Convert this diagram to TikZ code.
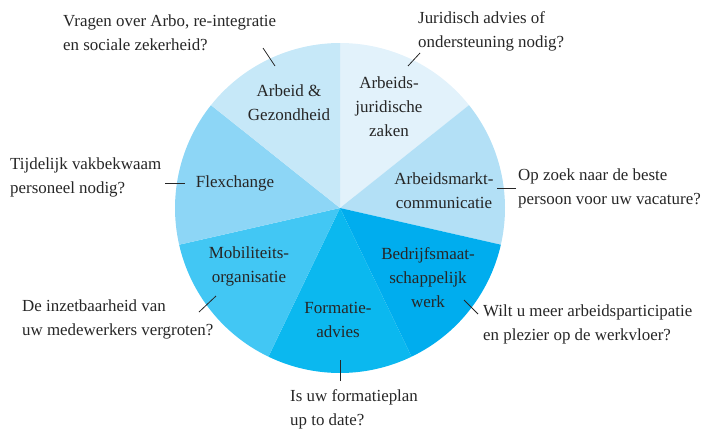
\documentclass[tikz,border=0pt]{standalone}
\usepackage{fontspec}
\setmainfont{Liberation Serif}
\usepackage{tikz}

\definecolor{juri}{HTML}{E2F2FB}
\definecolor{markt}{HTML}{B3E0F6}
\definecolor{bedrijf}{HTML}{00ADEE}
\definecolor{formatie}{HTML}{0BB8EF}
\definecolor{mobiel}{HTML}{42C7F4}
\definecolor{flex}{HTML}{8DD6F6}
\definecolor{gezond}{HTML}{C6E8F8}
\definecolor{tekst}{HTML}{262626}

\tikzset{
	seg/.style={align=center, text=tekst, inner sep=0pt, font=\fontsize{17}{24}\selectfont},
	vraag/.style={align=left, anchor=base west, text=tekst, inner sep=0pt, font=\fontsize{16.9}{23.5}\selectfont},
	tick/.style={draw=tekst, line width=.8pt}
}

\begin{document}
\begin{tikzpicture}[x=1pt,y=-1pt]
				\useasboundingbox (0,0) rectangle (703,429);
				\coordinate (c) at (340,208);

				\foreach \col [count=\i from 0] in {juri, markt, bedrijf, formatie, mobiel, flex, gezond}
				{
					\fill [\col] (c) -- ++(-90+\i*360/7:165) arc [start angle=-90+\i*360/7, end angle=-90+\i*360/7+360/7, radius=165] -- cycle;
				}

				\node [seg] (gezondheid) at (289,103) {Arbeid \&\\Gezondheid};
				\node [seg] (juridisch) at (389,107) {Arbeids-\\juridische\\zaken};
				\node [seg] (communicatie) at (444,191) {Arbeidsmarkt-\\communicatie};
				\node [seg] (flexchange) at (235,183) {Flexchange};
				\node [seg] (mobiliteit) at (249,266) {Mobiliteits-\\organisatie};
				\node [seg] (formatieadvies) at (338,320) {Formatie-\\advies};
				\node [seg] (bedrijfswerk) at (428,278) {Bedrijfsmaat-\\schappelijk\\werk};

				\node [vraag] (arbo) at (63,50) {Vragen over Arbo, re-integratie\\en sociale zekerheid?};
				\node [vraag] (advies) at (418,47) {Juridisch advies of\\ondersteuning nodig?};
				\node [vraag] (vacature) at (518,204) {Op zoek naar de beste\\persoon voor uw vacature?};
				\node [vraag] (personeel) at (10,193) {Tijdelijk vakbekwaam\\personeel nodig?};
				\node [vraag] (inzet) at (22,335) {De inzetbaarheid van\\uw medewerkers vergroten?};
				\node [vraag] (plezier) at (483,340) {Wilt u meer arbeidsparticipatie\\en plezier op de werkvloer?};
				\node [vraag] (plan) at (290,425) {Is uw formatieplan\\up to date?};

				\coordinate (arbo1) at (263,48);
				\coordinate (arbo2) at (275,66);
				\coordinate (advies1) at (420,53);
				\coordinate (advies2) at (408,66);
				\coordinate (personeel1) at (165,183);
				\coordinate (personeel2) at (185,183);
				\coordinate (vacature1) at (516,188);
				\coordinate (vacature2) at (497,188);
				\coordinate (inzet1) at (199,312);
				\coordinate (inzet2) at (216,296);
				\coordinate (plan1) at (340,381);
				\coordinate (plan2) at (340,360);
				\coordinate (plezier1) at (478,314);
				\coordinate (plezier2) at (464,300);

				\foreach \v in {arbo, advies, personeel, vacature, inzet, plan, plezier}
				{
					\draw [tick] (\v1) -- (\v2);
				}
		\end{tikzpicture}
\end{document}
